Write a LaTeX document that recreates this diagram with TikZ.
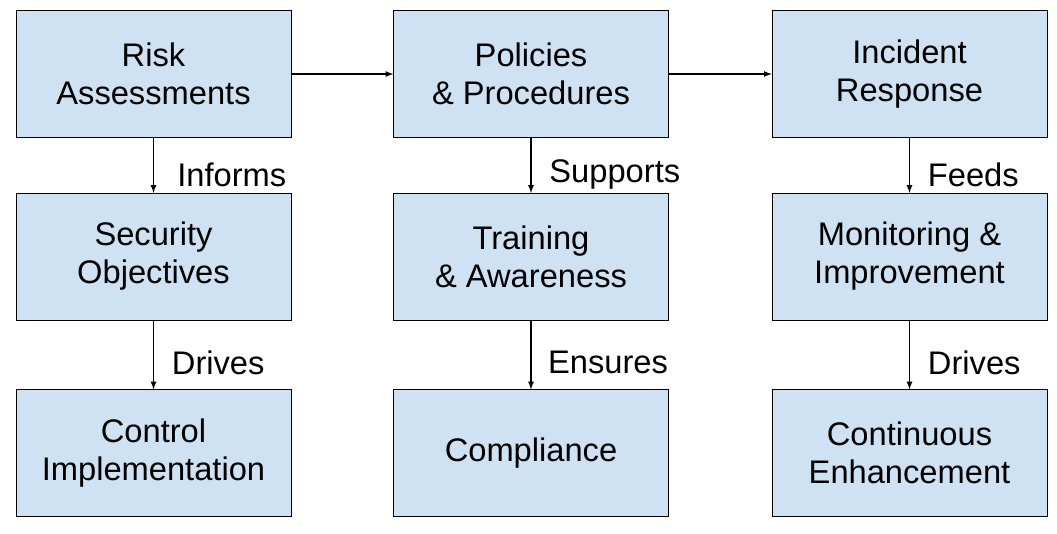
\documentclass[tikz,border=0pt]{standalone}
\usepackage{fontspec}
\setmainfont{Liberation Sans}
\usetikzlibrary{positioning}

\tikzset{
  block/.style={draw, fill=blue!10!cyan!8, minimum width=206.25pt, minimum height=95pt,
    align=center, font=\fontsize{24.5}{28.5}\selectfont},
  link/.style={-latex, line width=1pt},
  tag/.style={font=\fontsize{24.5}{28}\selectfont, anchor=west}
}

\begin{document}
\begin{tikzpicture}[x=0.75pt, y=-0.75pt]
  \useasboundingbox (0,0) rectangle (1057,533);
  \definecolor{boxfill}{HTML}{CFE2F3}
  \tikzset{block/.append style={fill=boxfill}}
  % top row
  \node[block] (risk) at (153.5,74) {Risk\\Assessments};
  \node[block] (policy) at (531,74) {Policies\\\& Procedures};
  \node[block] (incident) at (909.5,74) {Incident\\Response};
  % middle row
  \node[block] (objectives) at (153.5,256.5) {Security\\Objectives};
  \node[block] (training) at (531,256.5) {Training\\\& Awareness};
  \node[block] (monitor) at (909.5,256.5) {Monitoring \&\\Improvement};
  % bottom row
  \node[block] (control) at (153.5,453) {Control\\Implementation};
  \node[block] (comply) at (531,453) {Compliance};
  \node[block] (enhance) at (909.5,453) {Continuous\\Enhancement};

  \draw[link] (risk) -- (policy);
  \draw[link] (policy) -- (incident);
  \draw[link] (risk) -- node[tag, xshift=14pt, yshift=-7pt] {Informs} (objectives);
  \draw[link] (objectives) -- node[tag, xshift=10pt, yshift=-6pt] {Drives} (control);
  \draw[link] (policy) -- node[tag, xshift=10pt, yshift=-7pt] {Supports} (training);
  \draw[link] (training) -- node[tag, xshift=9pt, yshift=-6pt] {Ensures} (comply);
  \draw[link] (incident) -- node[tag, xshift=10pt, yshift=-7pt] {Feeds} (monitor);
  \draw[link] (monitor) -- node[tag, xshift=10pt, yshift=-6pt] {Drives} (enhance);
\end{tikzpicture}
\end{document}
